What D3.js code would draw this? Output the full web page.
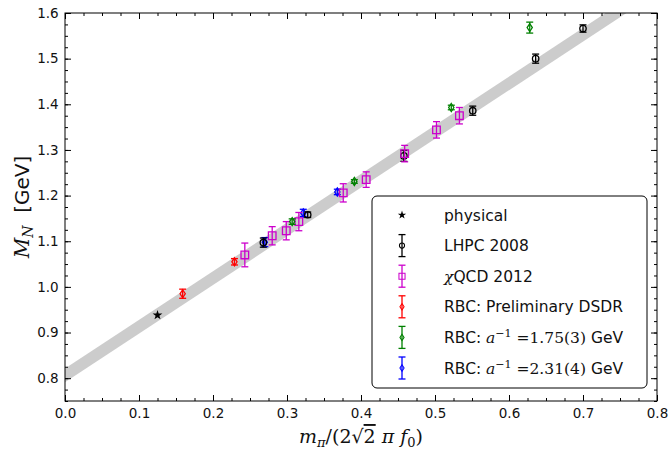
<!DOCTYPE html>
<html>
<head>
<meta charset="utf-8">
<script src="https://cdn.jsdelivr.net/npm/d3@7"></script>
<style>
  body { margin: 0; background: #fff; }
  text { font-family: "DejaVu Sans", sans-serif; }
  .math { font-family: "DejaVu Serif", "Liberation Serif", serif; }
</style>
</head>
<body>
<div id="chart"></div>
<script>
// data
var xTicks = [0.0, 0.1, 0.2, 0.3, 0.4, 0.5, 0.6, 0.7, 0.8];
var yTicks = [0.8, 0.9, 1.0, 1.1, 1.2, 1.3, 1.4, 1.5, 1.6];

var bandX = [0.0, 0.8];
var bandLo = [0.791, 1.644];
var bandHi = [0.821, 1.674];

var physX = [0.125];
var physY = [0.938];

var lhpcX = [0.268, 0.328, 0.458, 0.551, 0.636, 0.700];
var lhpcY = [1.097, 1.158, 1.287, 1.386, 1.500, 1.566];
var lhpcE = [0.010, 0.006, 0.012, 0.010, 0.010, 0.008];

var chiX = [0.243, 0.280, 0.299, 0.316, 0.376, 0.407, 0.459, 0.502, 0.533];
var chiY = [1.070, 1.112, 1.123, 1.143, 1.206, 1.235, 1.292, 1.344, 1.375];
var chiE = [0.026, 0.020, 0.020, 0.020, 0.020, 0.017, 0.018, 0.018, 0.018];

var dsdrX = [0.159, 0.229];
var dsdrY = [0.985, 1.055];
var dsdrE = [0.010, 0.007];

var r175X = [0.307, 0.391, 0.522, 0.628];
var r175Y = [1.143, 1.231, 1.393, 1.568];
var r175E = [0.006, 0.004, 0.005, 0.012];

var r231X = [0.270, 0.322, 0.368];
var r231Y = [1.098, 1.162, 1.208];
var r231E = [0.010, 0.008, 0.006];

var W = 671, H = 449;
var margin = { top: 13, right: 14, bottom: 48, left: 65 },
    width = W - margin.left - margin.right,
    height = H - margin.top - margin.bottom;

var svg = d3.select("#chart").append("svg")
    .attr("width", W)
    .attr("height", H);

var g = svg.append("g")
    .attr("transform", "translate(" + margin.left + "," + margin.top + ")");

var x = d3.scaleLinear().domain([0, 0.8]).range([0, width]);
var y = d3.scaleLinear().domain([0.75, 1.6]).range([height, 0]);

g.append("clipPath").attr("id", "clip")
  .append("rect").attr("width", width).attr("height", height);

// fit band
var band = bandX.map(function (d, i) { return { x: d, lo: bandLo[i], hi: bandHi[i] }; });
g.append("path")
    .datum(band)
    .attr("clip-path", "url(#clip)")
    .attr("fill", "#cccccc")
    .attr("d", d3.area()
        .x(function (d) { return x(d.x); })
        .y0(function (d) { return y(d.lo); })
        .y1(function (d) { return y(d.hi); }));

// axes, ticks pointing inward on all four sides
var minorX = d3.range(0, 0.8001, 0.025), minorY = d3.range(0.75, 1.6001, 0.025);

function axis(gen, scale, ticks, size, fmt) {
  return gen(scale).tickValues(ticks).tickSize(size).tickSizeOuter(0).tickFormat(fmt);
}
var fmt = d3.format(".1f");

g.append("g").attr("transform", "translate(0," + height + ")")
  .call(axis(d3.axisBottom, x, minorX, -3, ""));
g.append("g").attr("transform", "translate(0," + height + ")")
  .call(axis(d3.axisBottom, x, xTicks, -6, fmt)).attr("class", "xa");
g.append("g").call(axis(d3.axisTop, x, minorX, -3, ""));
g.append("g").call(axis(d3.axisTop, x, xTicks, -6, ""));
g.append("g").call(axis(d3.axisLeft, y, minorY, -3, ""));
g.append("g").call(axis(d3.axisLeft, y, yTicks, -6, fmt)).attr("class", "ya");
g.append("g").attr("transform", "translate(" + width + ",0)")
  .call(axis(d3.axisRight, y, minorY, -3, ""));
g.append("g").attr("transform", "translate(" + width + ",0)")
  .call(axis(d3.axisRight, y, yTicks, -6, ""));

g.selectAll(".domain").remove();
g.selectAll(".tick line").attr("stroke", "#000");
g.selectAll(".xa text").attr("font-size", 13.5).attr("y", 4).attr("dy", "0.95em").attr("fill", "#111");
g.selectAll(".ya text").attr("font-size", 13.5).attr("dx", "-0.25em").attr("fill", "#111");

g.append("rect").attr("width", width).attr("height", height)
  .attr("fill", "none").attr("stroke", "#000").attr("stroke-width", 1);

// markers
var star = d3.symbol().type(d3.symbolStar).size(30);

function drawSeries(xs, ys, es, color, shape) {
  var pts = xs.map(function (d, i) { return { x: d, y: ys[i], e: es[i] }; });
  var s = g.append("g");
  var cw = 3.5;
  var eb = s.selectAll(".eb").data(pts).enter().append("g")
      .attr("stroke", color).attr("stroke-width", 1.3).attr("fill", "none");
  eb.append("line")
      .attr("x1", function (d) { return x(d.x); }).attr("x2", function (d) { return x(d.x); })
      .attr("y1", function (d) { return y(d.y - d.e); }).attr("y2", function (d) { return y(d.y + d.e); });
  eb.append("line")
      .attr("x1", function (d) { return x(d.x) - cw; }).attr("x2", function (d) { return x(d.x) + cw; })
      .attr("y1", function (d) { return y(d.y - d.e); }).attr("y2", function (d) { return y(d.y - d.e); });
  eb.append("line")
      .attr("x1", function (d) { return x(d.x) - cw; }).attr("x2", function (d) { return x(d.x) + cw; })
      .attr("y1", function (d) { return y(d.y + d.e); }).attr("y2", function (d) { return y(d.y + d.e); });
  s.selectAll(".m").data(pts).enter().append("path")
      .attr("transform", function (d) { return "translate(" + x(d.x) + "," + y(d.y) + ")"; })
      .attr("d", shape)
      .attr("fill", "none").attr("stroke", color).attr("stroke-width", 1.3);
}

var circ = "M3.2,0A3.2,3.2 0 1,1 -3.2,0A3.2,3.2 0 1,1 3.2,0Z";
var sq = "M-3.8,-3.8H3.8V3.8H-3.8Z";
var dia = "M0,-4L2.6,0L0,4L-2.6,0Z";

drawSeries(dsdrX, dsdrY, dsdrE, "#ff0000", dia);
drawSeries(r231X, r231Y, r231E, "#0000ff", dia);
drawSeries(lhpcX, lhpcY, lhpcE, "#000000", circ);
drawSeries(chiX, chiY, chiE, "#cc00cc", sq);
drawSeries(r175X, r175Y, r175E, "#008000", dia);

g.selectAll(".phys").data(physX).enter().append("path")
    .attr("transform", function (d, i) { return "translate(" + x(d) + "," + y(physY[i]) + ")"; })
    .attr("d", star).attr("fill", "#000");

// legend
var lg = svg.append("g").attr("transform", "translate(372,196)");
lg.append("rect").attr("width", 275).attr("height", 192).attr("rx", 5)
  .attr("fill", "#fff").attr("stroke", "#000").attr("stroke-width", 1);

var legRows = [
  { color: "#000", shape: null, label: "physical" },
  { color: "#000000", shape: circ, label: "LHPC 2008" },
  { color: "#cc00cc", shape: sq, label: "chi" },
  { color: "#ff0000", shape: dia, label: "RBC: Preliminary DSDR" },
  { color: "#008000", shape: dia, label: "a175" },
  { color: "#0000ff", shape: dia, label: "a231" }
];
legRows.forEach(function (r, i) {
  var cy = 19 + i * 30.6;
  var row = lg.append("g").attr("transform", "translate(30," + cy + ")");
  if (r.shape === null) {
    row.append("path").attr("d", d3.symbol().type(d3.symbolStar).size(22)).attr("fill", "#000");
  } else {
    row.append("line").attr("y1", -11).attr("y2", 11).attr("stroke", r.color).attr("stroke-width", 1.3);
    row.append("line").attr("x1", -3.5).attr("x2", 3.5).attr("y1", -11).attr("y2", -11).attr("stroke", r.color).attr("stroke-width", 1.3);
    row.append("line").attr("x1", -3.5).attr("x2", 3.5).attr("y1", 11).attr("y2", 11).attr("stroke", r.color).attr("stroke-width", 1.3);
    row.append("path").attr("d", r.shape).attr("transform", "scale(0.8)")
      .attr("fill", "none").attr("stroke", r.color).attr("stroke-width", 1.3);
  }
  var t = lg.append("text").attr("x", 72).attr("y", cy + 5.5).attr("font-size", 15.5).attr("fill", "#111");
  if (r.label === "chi") {
    t.append("tspan").attr("class", "math").attr("font-style", "italic").text("χ");
    t.append("tspan").text("QCD 2012");
  } else if (r.label === "a175" || r.label === "a231") {
    t.append("tspan").text("RBC: ");
    t.append("tspan").attr("class", "math").attr("font-style", "italic").text("a");
    t.append("tspan").attr("class", "math").attr("font-size", 11).attr("dy", -6).text("−1");
    t.append("tspan").attr("class", "math").attr("dy", 6).text(" =" + (r.label === "a175" ? "1.75(3)" : "2.31(4)"));
    t.append("tspan").text(" GeV");
  } else {
    t.text(r.label);
  }
});

// axis titles
var xt = svg.append("text").attr("class", "math")
    .attr("x", margin.left + width / 2).attr("y", 443)
    .attr("text-anchor", "middle").attr("font-size", 19).attr("fill", "#111");
xt.append("tspan").attr("font-style", "italic").text("m");
xt.append("tspan").attr("font-style", "italic").attr("font-size", 13).attr("dy", 4).text("π");
xt.append("tspan").attr("dy", -4).text("/(2");
xt.append("tspan").text("√");
xt.append("tspan").attr("text-decoration", "overline").text("2");
xt.append("tspan").attr("font-style", "italic").text(" π f");
xt.append("tspan").attr("font-size", 13).attr("dy", 4).text("0");
xt.append("tspan").attr("dy", -4).text(")");

var yt = svg.append("text")
    .attr("transform", "translate(29," + (margin.top + height / 2) + ") rotate(-90)")
    .attr("text-anchor", "middle").attr("font-size", 20).attr("fill", "#111");
yt.append("tspan").attr("class", "math").attr("font-style", "italic").text("M");
yt.append("tspan").attr("class", "math").attr("font-style", "italic").attr("font-size", 14).attr("dy", 4).text("N");
yt.append("tspan").attr("dy", -4).attr("xml:space", "preserve").text("  [GeV]");
</script>
</body>
</html>
